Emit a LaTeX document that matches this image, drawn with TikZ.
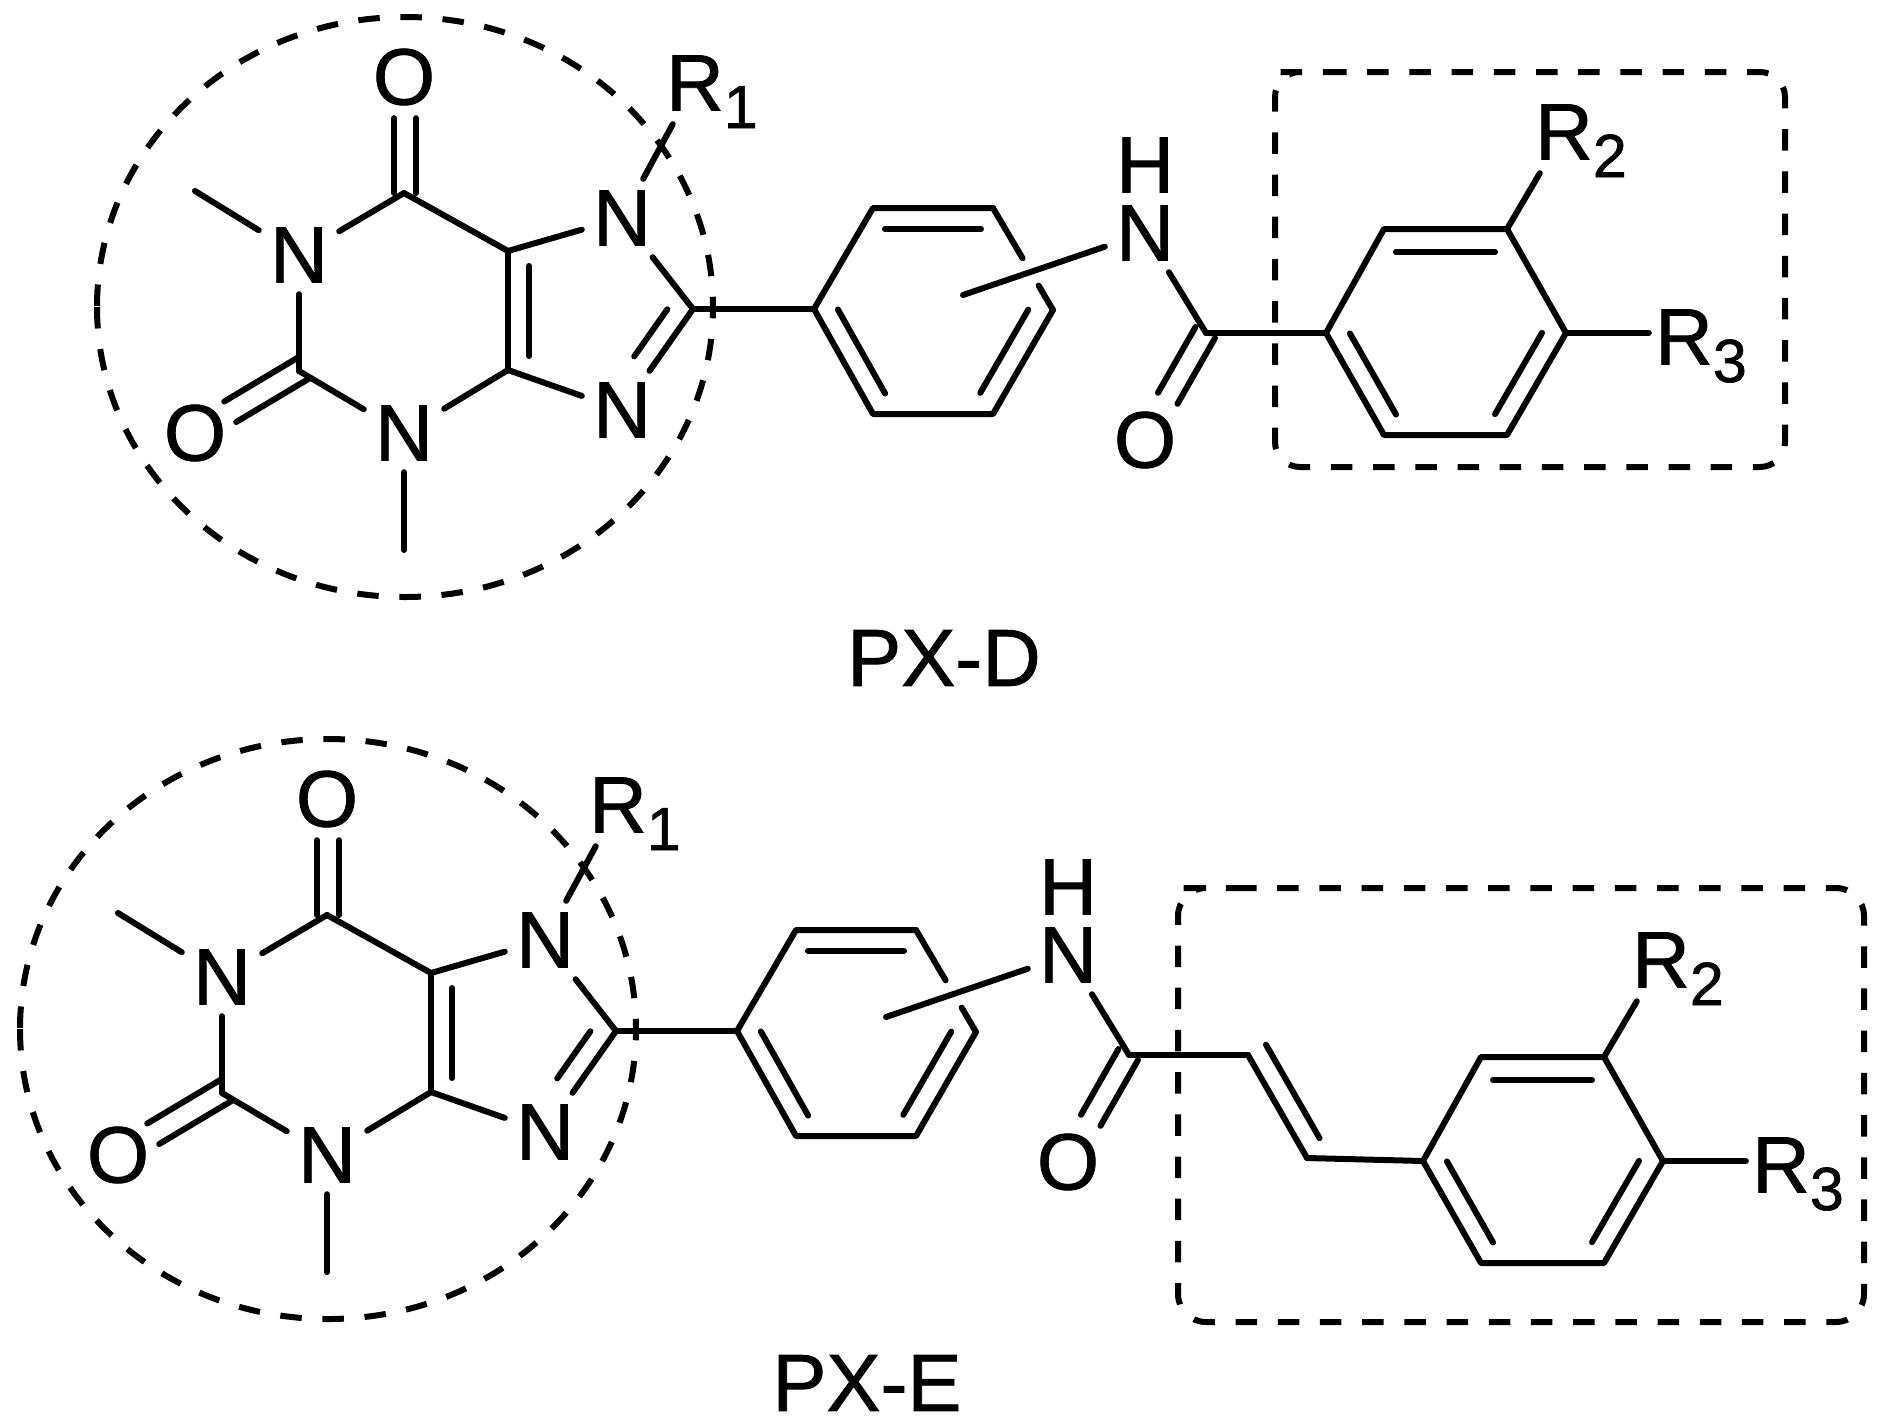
\documentclass[tikz,border=0pt]{standalone}
\usepackage{fontspec}
\setmainfont{Liberation Sans}[FakeBold=1]
\usetikzlibrary{calc}

\newcommand{\subnum}[1]{\smash{\rlap{\raisebox{-17.5pt}{\fontsize{61}{61}\selectfont\addfontfeature{FakeBold=1} #1}}}}

\tikzset{
    bond/.style={line width=6pt, line cap=round, line join=round},
    hatch/.style={line width=6pt, dash pattern=on 21.5pt off 20.7pt},
    atomN/.style={inner sep=0pt, minimum width=80pt, minimum height=78pt, font=\fontsize{80}{96}\selectfont\addfontfeature{FakeBold=1}},
    atomO/.style={atomN, minimum width=70pt, minimum height=82pt},
    atomR/.style={atomN, minimum width=70pt, minimum height=82pt},
    title/.style={inner sep=0pt, font=\fontsize{81}{96}\selectfont\addfontfeature{FakeBold=1}},
    off/.style 2 args={transform canvas={shift={(#1,#2)}}},
    inner/.style={shorten <=12pt, shorten >=12pt},
    core/.pic={
        \coordinate (Hw) at (97,307);
        \draw[hatch] (Hw) arc[start angle=180, end angle=540, x radius=308pt, y radius=290pt]; % Xanthine ring
        % Xanthine atoms
        \coordinate (C6) at (404,193);
        \coordinate (C2) at (299,371);
        \coordinate (C4) at (508,370);
        \coordinate (C5) at (508,251);
        \coordinate (C8) at (693,309);
        \coordinate (Me1) at (195,191);
        \coordinate (Me3) at (404,550);
        \node[atomN] (N1) at (299,255) {N};
        \node[atomN] (N3) at (404,433) {N};
        \node[atomN] (N7) at (622,218) {N};
        \node[atomN] (N9) at (622,410) {N};
        \node[atomO] (O6) at (404,77) {O};
        \node[atomO] (O2) at (195,433) {O};
        \node[atomR] (R1) at (695,83) {R\subnum{1}};
        % Xanthine bonds
        \draw[bond] (Me1) -- (N1);
        \draw[bond] (N1) -- (C6);
        \draw[bond] (N1) -- (C2);
        \draw[bond] (C2) -- (N3);
        \draw[bond] (N3) -- (C4);
        \draw[bond] (N3) -- (Me3);
        \draw[bond] (C4) -- (C5);
        \draw[bond] (C5) -- (C6);
        \draw[bond] (C5) -- (N7);
        \draw[bond] (N7) -- (C8);
        \draw[bond] (C8) -- (N9);
        \draw[bond] (N9) -- (C4);
        \draw[bond] (N7) -- (R1);
        \draw[bond, off={21}{0}, shorten <=15pt, shorten >=14pt] (C5) -- (C4);
        \draw[bond, off={-17}{-12}, shorten <=15pt, shorten >=3pt] (C8) -- (N9);
        \draw[bond, off={-10}{0}] (C6) -- (O6);
        \draw[bond, off={12}{0}] (C6) -- (O6);
        \draw[bond, off={-6}{-10.5}, shorten <=-6pt] (C2) -- (O2);
        \draw[bond, off={6}{10}, shorten <=-6pt] (C2) -- (O2);
        % Middle phenyl
        \coordinate (Pa) at (814,309);
        \coordinate (Pb) at (873,208);
        \coordinate (Pc) at (993,208);
        \coordinate (Pd) at (1053,310);
        \coordinate (Pe) at (993,414);
        \coordinate (Pf) at (873,414);
        \coordinate (Pin) at (963,295);
        \draw[bond] (C8) -- (Pa);
        \draw[bond] (Pc) -- (Pb) -- (Pa) -- (Pf) -- (Pe) -- (Pd);
        \draw[bond, shorten >=60pt] (Pc) -- (Pd); % broken where the amide line crosses
        \draw[bond, shorten <=90pt] (Pc) -- (Pd);
        \draw[bond, off={0}{21}, inner] (Pb) -- (Pc);
        \draw[bond, off={18}{-10}, inner] (Pa) -- (Pf);
        \draw[bond, off={-18.7}{-10.8}, inner] (Pd) -- (Pe);
        % Amide
        \coordinate (CO) at (1206,333);
        \node[atomN] (NH) at (1145,233) {N};
        \node[atomN] (HN) at (1145,165) {H};
        \node[atomO] (OA) at (1145,440) {O};
        \draw[bond] (Pin) -- (NH);
        \draw[bond] (NH) -- (CO);
        \draw[bond, off={-10.5}{-6}] (CO) -- (OA);
        \draw[bond, off={9}{5}] (CO) -- (OA);
    },
    ring/.pic={
        \coordinate (L) at (1326,333);
        \coordinate (TL) at (1384,229);
        \coordinate (TR) at (1507,229);
        \coordinate (Rt) at (1566,333);
        \coordinate (BR) at (1507,435);
        \coordinate (BL) at (1384,435);
        \node[atomR] (R2) at (1564,132) {R\subnum{2}};
        \node[atomR] (R3) at (1684,337) {R\subnum{3}};
        \draw[bond] (L) -- (TL) -- (TR) -- (Rt) -- (BR) -- (BL) -- cycle;
        \draw[bond, off={0}{23}, inner] (TL) -- (TR);
        \draw[bond, off={18}{-10}, inner] (L) -- (BL);
        \draw[bond, off={-18}{-10.5}, inner] (Rt) -- (BR);
        \draw[bond] (TR) -- (R2);
        \draw[bond] (Rt) -- (Rt -| R3.west);
    },
}

\begin{document}
\begin{tikzpicture}[x=1pt, y=-1pt]
    \useasboundingbox (0,0) rectangle (1889,1425);
    % PX-D
    \pic (d) at (0,0) {core};
    \pic (rd) at (0,0) {ring};
    \draw[bond] (dCO) -- (rdL);
    \draw[hatch, rounded corners=25pt] (1300,72) -- (1785,72) -- (1785,467) -- (1275,467) -- (1275,72) -- cycle;
    \node[title] (pxd) at (944,658) {PX-D};
    % PX-E
    \pic (e) at (-77,722) {core};
    \pic (re) at (97,828) {ring};
    \coordinate (Ca) at (1248,1055);
    \coordinate (Cb) at (1307,1158);
    \draw[bond] (eCO) -- (Ca);
    \draw[bond] (Ca) -- (Cb);
    \draw[bond] (Cb) -- (reL);
    \draw[bond, off={18}{-10.3}, shorten >=11pt] (Ca) -- (Cb);
    \draw[hatch, rounded corners=28pt] (1207,888) -- (1864,888) -- (1864,1322) -- (1178,1322) -- (1178,888) -- cycle;
    \node[title] (pxe) at (867,1383) {PX-E};
\end{tikzpicture}
\end{document}
